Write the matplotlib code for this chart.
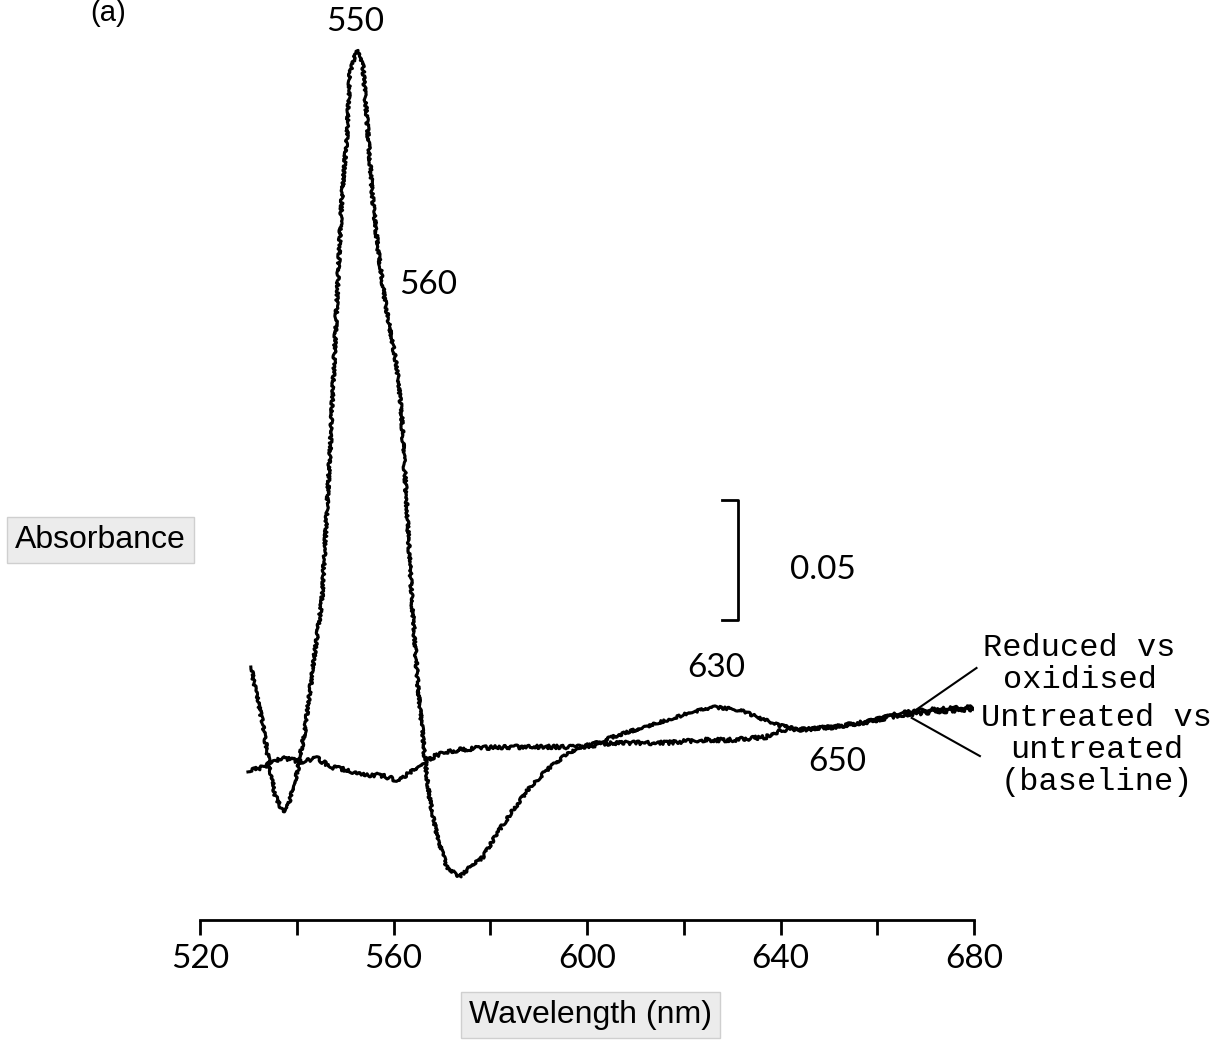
import matplotlib
matplotlib.use("Agg")
import matplotlib.pyplot as plt

# difference spectra, wavelength (nm) vs absorbance change
red_nm = [530.5, 532.8, 534.5, 535.5, 537.1, 538.6, 540.2, 541.7, 543.8, 545.2,
          546.9, 548.3, 549.3, 550.4, 551.0, 552.4, 553.7, 554.7, 555.7, 556.8,
          558.2, 559.3, 560.7, 561.7, 563.8, 565.0, 566.5, 567.5, 569.2, 571.0,
          573.7, 575.8, 578.5, 581.4, 584.7, 588.2, 591.7, 595.0, 598.5, 602.0,
          605.3, 608.8, 616.5, 621.9, 626.0, 631.6, 635.7, 639.3, 644.0, 650.8,
          657.8, 664.6, 671.4, 679.7]
red_abs = [0.0429, 0.0208, 0.0, -0.0104, -0.0175, -0.0125, 0.0, 0.0167, 0.0500, 0.0708,
           0.1333, 0.1958, 0.2375, 0.2654, 0.2904, 0.3000, 0.2929, 0.2654, 0.2375, 0.2167,
           0.1958, 0.1833, 0.1679, 0.1471, 0.0708, 0.0363, 0.0042, -0.0125, -0.0292, -0.0404,
           -0.0446, -0.0404, -0.0363, -0.0263, -0.0167, -0.0071, 0.0, 0.0054, 0.0096, 0.0113,
           0.0138, 0.0160, 0.0208, 0.0242, 0.0263, 0.0250, 0.0217, 0.0188, 0.0167, 0.0179,
           0.0200, 0.0238, 0.0254, 0.0263]

base_nm = [529.9, 533.0, 537.1, 541.3, 544.2, 546.9, 550.4, 553.7, 557.2, 560.7,
           563.4, 566.1, 569.0, 573.1, 577.9, 584.7, 591.7, 598.5, 605.3, 609.5,
           616.5, 623.3, 630.1, 637.1, 640.5, 644.0, 650.8, 657.8, 664.6, 671.4, 679.7]
base_abs = [-0.0008, 0.0013, 0.0050, 0.0033, 0.0050, 0.0013, 0.0, -0.0021, -0.0021, -0.0042,
            -0.0013, 0.0029, 0.0063, 0.0083, 0.0092, 0.0096, 0.0096, 0.0096, 0.0113, 0.0113,
            0.0113, 0.0125, 0.0125, 0.0138, 0.0167, 0.0167, 0.0179, 0.0200, 0.0229, 0.0242,
            0.0254]

peak_nm = [552.0, 567.1, 626.8, 651.8]
peak_abs = [0.3117, 0.2021, 0.0425, 0.0033]
peak_text = ["550", "560", "630", "650"]

scale_bar = 0.05
num_font = "Lato"
num_size = 24

fig = plt.figure(figsize=(12.31, 10.42), dpi=100)
ax = fig.add_axes([0.1625, 0.1171, 0.6288, 0.881])

# recorder traces: a little jitter drawn on for the pen noise
for x, y, jit in [(red_nm, red_abs, 1.4), (base_nm, base_abs, 1.9)]:
    ln, = ax.plot(x, y, color="black", lw=2.2, solid_joinstyle="round")
    ln.set_sketch_params(scale=jit, length=3.5, randomness=20.0)

ax.set_xlim(520, 680)
ax.set_ylim(-0.0625, 0.32)
for side in ["left", "right", "top"]:
    ax.spines[side].set_visible(False)
ax.spines["bottom"].set_linewidth(2.0)
ax.set_yticks([])
ax.set_xticks(range(520, 681, 20))
ax.set_xticklabels([str(v) if v % 40 == 0 else "" for v in range(520, 681, 20)])
ax.tick_params(axis="x", direction="out", length=11, width=2.0, pad=6,
               labelsize=num_size)
for lab in ax.get_xticklabels():
    lab.set_fontfamily(num_font)

box = dict(boxstyle="square,pad=0.25", facecolor="#ececec", edgecolor="#cfcfcf", lw=1)
ax.set_xlabel("Wavelength (nm)", fontsize=23, family="Liberation Sans", va="center",
              bbox=box)
ax.xaxis.set_label_coords(0.504, -0.104)
ax.set_ylabel("Absorbance", fontsize=23, family="Liberation Sans", rotation=0,
              va="center", ha="center", bbox=box)
ax.yaxis.set_label_coords(-0.129, 0.414)

for x, y, t in zip(peak_nm, peak_abs, peak_text):
    ax.text(x, y, t, fontsize=num_size, family=num_font, ha="center", va="center")

# 0.05 absorbance scale bar
bx, by = 631.2, 0.0625
ax.plot([bx - 3.3, bx, bx, bx - 3.3], [by, by, by + scale_bar, by + scale_bar],
        color="black", lw=2.0)
ax.text(641.9, 0.0833, f"{scale_bar:.2f}", fontsize=num_size,
        family=num_font, ha="left", va="center")

# leader lines to the trace labels
ax.plot([667.1, 680.5], [0.0238, 0.0425], color="black", lw=1.5, clip_on=False)
ax.plot([667.1, 681.2], [0.0217, 0.0058], color="black", lw=1.5, clip_on=False)
ax.text(701.8, 0.0442, "Reduced vs\noxidised", fontsize=23, family="Liberation Mono",
        ha="center", va="center", multialignment="center", linespacing=1.1)
ax.text(705.3, 0.0083, "Untreated vs\nuntreated\n(baseline)", fontsize=23,
        family="Liberation Mono", ha="center", va="center",
        multialignment="center", linespacing=1.1)

fig.text(108 / 1231, 1 - 13 / 1042, "(a)", fontsize=21, family="Liberation Sans",
         ha="center", va="center")

fig.savefig("out.png", dpi=100)
